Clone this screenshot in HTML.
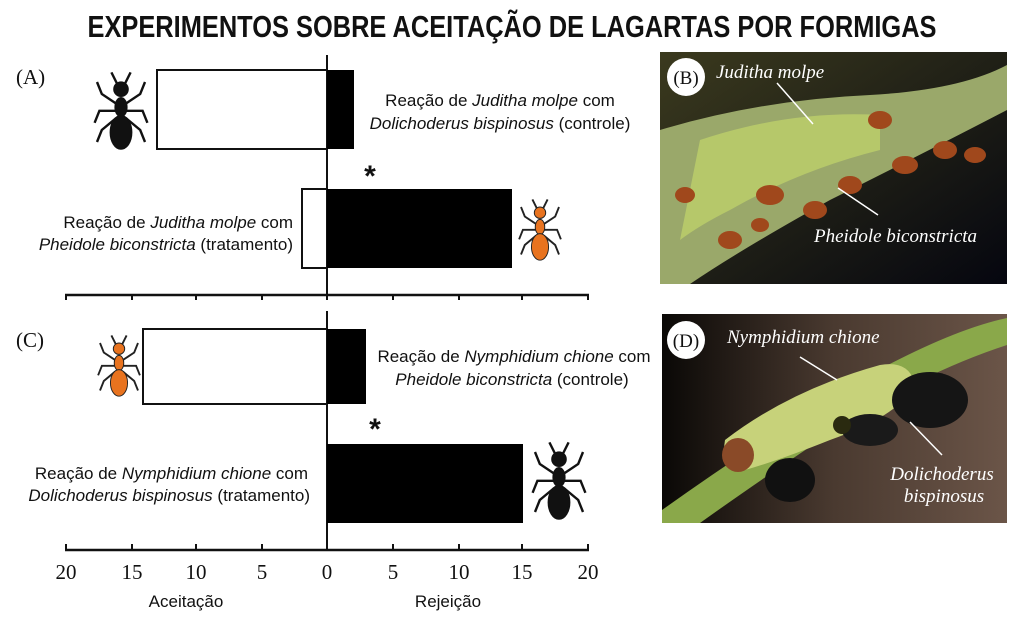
<!DOCTYPE html>
<html><head><meta charset="utf-8"><style>
html,body{margin:0;padding:0;background:#fff;width:1024px;height:623px;overflow:hidden}
svg{display:block}
.s{font-family:"Liberation Sans",sans-serif;font-size:17px;fill:#111}
.t{font-family:"Liberation Serif",serif;font-size:21px;fill:#111}
.p{font-family:"Liberation Serif",serif;font-style:italic;font-size:19px;fill:#fff}
</style></head><body>
<svg width="1024" height="623" viewBox="0 0 1024 623" xmlns="http://www.w3.org/2000/svg">
<defs>
<g id="ant">
 <g stroke-width="2" fill="none">
  <path d="M-4,-2 L-16,-10 L-20,-20 M4,-2 L16,-10 L20,-20 M-4,4 L-18,4 L-22,14 M4,4 L18,4 L22,14 M-4,10 L-16,20 L-20,30 M4,10 L16,20 L20,30 M-3,-18 L-8,-28 M3,-18 L8,-28"/>
 </g>
 <ellipse cx="0" cy="-14" rx="6" ry="6"/>
 <ellipse cx="0" cy="1" rx="5" ry="8"/>
 <ellipse cx="0" cy="22" rx="9" ry="14"/>
</g>
<linearGradient id="gb" x1="0" y1="0" x2="1" y2="1"><stop offset="0" stop-color="#3b3a1e"/><stop offset="1" stop-color="#05060f"/></linearGradient>
<linearGradient id="gd" x1="0" y1="0" x2="1" y2="0"><stop offset="0" stop-color="#0a0806"/><stop offset="0.5" stop-color="#4a3a30"/><stop offset="1" stop-color="#6b5548"/></linearGradient>
</defs>

<text x="512" y="37" text-anchor="middle" font-family="Liberation Sans,sans-serif" font-weight="bold" font-size="31" textLength="849" lengthAdjust="spacingAndGlyphs" fill="#111">EXPERIMENTOS SOBRE ACEITAÇÃO DE LAGARTAS POR FORMIGAS</text>

<text class="t" x="16" y="84">(A)</text>
<text class="t" x="16" y="347">(C)</text>

<!-- Panel A -->
<line x1="327" y1="55" x2="327" y2="295" stroke="#111" stroke-width="2"/>
<line x1="65" y1="295" x2="589" y2="295" stroke="#111" stroke-width="2.5"/>
<g stroke="#111" stroke-width="2">
<line x1="66" y1="295" x2="66" y2="300"/><line x1="132" y1="295" x2="132" y2="300"/><line x1="196" y1="295" x2="196" y2="300"/><line x1="262" y1="295" x2="262" y2="300"/><line x1="327" y1="295" x2="327" y2="300"/><line x1="393" y1="295" x2="393" y2="300"/><line x1="459" y1="295" x2="459" y2="300"/><line x1="522" y1="295" x2="522" y2="300"/><line x1="588" y1="295" x2="588" y2="300"/>
</g>
<rect x="157" y="70" width="170" height="79" fill="#fff" stroke="#111" stroke-width="2"/>
<rect x="327" y="70" width="27" height="79" fill="#000"/>
<rect x="302" y="189" width="25" height="79" fill="#fff" stroke="#111" stroke-width="2"/>
<rect x="327" y="189" width="185" height="79" fill="#000"/>
<text class="s" x="500" y="106" text-anchor="middle">Reação de <tspan font-style="italic">Juditha molpe</tspan> com</text>
<text class="s" x="500" y="129" text-anchor="middle"><tspan font-style="italic">Dolichoderus bispinosus</tspan> (controle)</text>
<text class="s" x="293" y="228" text-anchor="end">Reação de <tspan font-style="italic">Juditha molpe</tspan> com</text>
<text class="s" x="293" y="250" text-anchor="end"><tspan font-style="italic">Pheidole biconstricta</tspan> (tratamento)</text>
<text x="370" y="186" text-anchor="middle" font-family="Liberation Sans,sans-serif" font-size="30" font-weight="bold" fill="#111">*</text>
<use href="#ant" transform="translate(121,106) scale(1.2)" fill="#111" stroke="#111"/>
<use href="#ant" transform="translate(540,226) scale(0.95)" fill="#e8731f" stroke="#222"/>

<!-- Panel C -->
<line x1="327" y1="311" x2="327" y2="550" stroke="#111" stroke-width="2"/>
<line x1="65" y1="550" x2="589" y2="550" stroke="#111" stroke-width="2.5"/>
<g stroke="#111" stroke-width="2">
<line x1="66" y1="544" x2="66" y2="550"/><line x1="132" y1="544" x2="132" y2="550"/><line x1="196" y1="544" x2="196" y2="550"/><line x1="262" y1="544" x2="262" y2="550"/><line x1="393" y1="544" x2="393" y2="550"/><line x1="459" y1="544" x2="459" y2="550"/><line x1="522" y1="544" x2="522" y2="550"/><line x1="588" y1="544" x2="588" y2="550"/>
</g>
<rect x="143" y="329" width="184" height="75" fill="#fff" stroke="#111" stroke-width="2"/>
<rect x="327" y="329" width="39" height="75" fill="#000"/>
<rect x="327" y="444" width="196" height="79" fill="#000"/>
<text class="s" x="514" y="362" text-anchor="middle">Reação de <tspan font-style="italic">Nymphidium chione</tspan> com</text>
<text class="s" x="512" y="385" text-anchor="middle"><tspan font-style="italic">Pheidole biconstricta</tspan> (controle)</text>
<text class="s" x="308" y="479" text-anchor="end">Reação de <tspan font-style="italic">Nymphidium chione</tspan> com</text>
<text class="s" x="310" y="501" text-anchor="end"><tspan font-style="italic">Dolichoderus bispinosus</tspan> (tratamento)</text>
<text x="375" y="439" text-anchor="middle" font-family="Liberation Sans,sans-serif" font-size="30" font-weight="bold" fill="#111">*</text>
<use href="#ant" transform="translate(119,362) scale(0.95)" fill="#e8731f" stroke="#222"/>
<use href="#ant" transform="translate(559,476) scale(1.2)" fill="#111" stroke="#111"/>

<g class="t" text-anchor="middle">
<text x="66" y="579">20</text><text x="132" y="579">15</text><text x="196" y="579">10</text><text x="262" y="579">5</text><text x="327" y="579">0</text><text x="393" y="579">5</text><text x="459" y="579">10</text><text x="522" y="579">15</text><text x="588" y="579">20</text>
</g>
<text class="s" x="186" y="607" text-anchor="middle">Aceitação</text>
<text class="s" x="448" y="607" text-anchor="middle">Rejeição</text>

<!-- Photo B -->
<rect x="660" y="52" width="347" height="232" fill="url(#gb)"/>
<path d="M660,130 Q760,100 870,95 Q960,90 1007,65 L1007,110 Q930,150 830,200 Q740,250 690,284 L660,284 Z" fill="#9aa86a"/>
<path d="M700,140 Q790,110 880,115 L880,150 Q800,170 730,210 Q700,225 680,240 Z" fill="#b6c86a"/>
<g fill="#a0481c">
<ellipse cx="770" cy="195" rx="14" ry="10"/><ellipse cx="815" cy="210" rx="12" ry="9"/><ellipse cx="850" cy="185" rx="12" ry="9"/><ellipse cx="905" cy="165" rx="13" ry="9"/><ellipse cx="945" cy="150" rx="12" ry="9"/><ellipse cx="975" cy="155" rx="11" ry="8"/><ellipse cx="730" cy="240" rx="12" ry="9"/><ellipse cx="685" cy="195" rx="10" ry="8"/><ellipse cx="880" cy="120" rx="12" ry="9"/><ellipse cx="760" cy="225" rx="9" ry="7"/>
</g>
<line x1="777" y1="83" x2="813" y2="124" stroke="#fff" stroke-width="1.5"/>
<line x1="838" y1="188" x2="878" y2="215" stroke="#fff" stroke-width="1.5"/>
<circle cx="686" cy="77" r="19" fill="#fff"/>
<text x="686" y="84" text-anchor="middle" font-family="Liberation Serif,serif" font-size="19" fill="#111">(B)</text>
<text class="p" x="716" y="78">Juditha molpe</text>
<text class="p" x="814" y="242">Pheidole biconstricta</text>

<!-- Photo D -->
<rect x="662" y="314" width="345" height="209" fill="url(#gd)"/>
<path d="M662,510 Q760,440 860,380 Q950,330 1007,318 L1007,345 Q930,370 850,420 Q760,480 700,523 L662,523 Z" fill="#8aa84a"/>
<path d="M725,440 Q790,390 880,365 Q910,360 915,385 Q900,415 830,440 Q780,460 745,470 Q720,470 725,440 Z" fill="#c7d27a"/>
<ellipse cx="738" cy="455" rx="16" ry="17" fill="#8a4a28"/>
<ellipse cx="930" cy="400" rx="38" ry="28" fill="#151515"/>
<ellipse cx="870" cy="430" rx="28" ry="16" fill="#1a1a1a"/>
<ellipse cx="790" cy="480" rx="25" ry="22" fill="#111"/>
<circle cx="842" cy="425" r="9" fill="#2a2a10"/>
<line x1="800" y1="357" x2="837" y2="380" stroke="#fff" stroke-width="1.5"/>
<line x1="910" y1="422" x2="942" y2="455" stroke="#fff" stroke-width="1.5"/>
<circle cx="686" cy="340" r="19" fill="#fff"/>
<text x="686" y="347" text-anchor="middle" font-family="Liberation Serif,serif" font-size="19" fill="#111">(D)</text>
<text class="p" x="727" y="343">Nymphidium chione</text>
<text class="p" x="942" y="480" text-anchor="middle">Dolichoderus</text>
<text class="p" x="944" y="502" text-anchor="middle">bispinosus</text>
</svg>
</body></html>
